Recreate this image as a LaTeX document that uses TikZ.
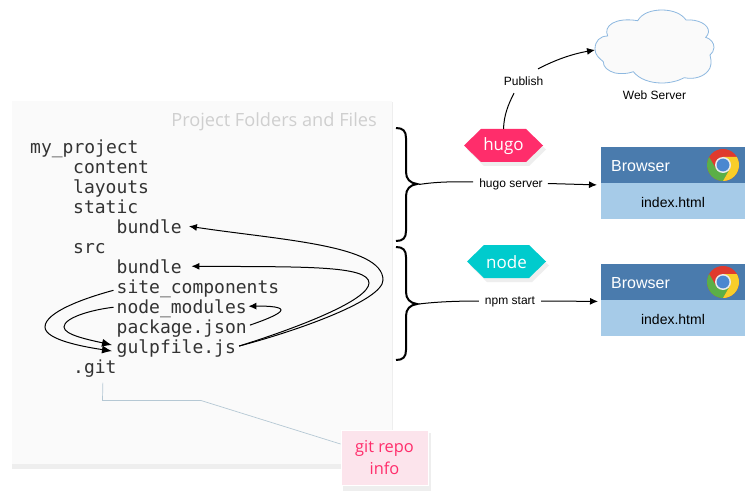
\documentclass[tikz,border=0pt]{standalone}
\usepackage{fontspec}
\setmainfont{Liberation Sans}
\newfontfamily\monof{DejaVu Sans Mono}
\newfontfamily\openf{Open Sans}
\usetikzlibrary{arrows.meta}
\definecolor{panelbg}{HTML}{FAFAFA}
\definecolor{shadowc}{HTML}{EEEEEE}
\definecolor{hotpink}{HTML}{FF2D6B}
\definecolor{teal2}{HTML}{00CBCD}
\definecolor{browserdark}{HTML}{4A7BAD}
\definecolor{browserlight}{HTML}{A6CBE8}
\definecolor{notebg}{HTML}{FCE4EC}
\definecolor{cloudline}{HTML}{8DB8E0}
\definecolor{gitline}{HTML}{B5C8D4}
\definecolor{titlec}{HTML}{CFCFCF}
\definecolor{textc}{HTML}{333333}
\definecolor{chromered}{HTML}{DF3A2E}
\definecolor{chromegreen}{HTML}{5BAF47}
\definecolor{chromeyellow}{HTML}{F9CE2A}
\definecolor{chromeblue}{HTML}{4A87D0}
\tikzset{
  filetext/.style={anchor=base west,inner ysep=0pt,inner xsep=3pt,font=\monof\fontsize{18}{20}\selectfont,text=textc},
  flow/.style={-{Latex[length=8pt,width=7pt]},line width=1pt,black},
  bend2/.style={-{Latex[length=10pt,width=8pt]},line width=1pt,black},
  plainline/.style={line width=1pt,black},
  edgelabel/.style={font=\fontsize{12}{14}\selectfont,inner sep=0pt,text=black},
  bracec/.style={line width=2pt,black},
  hexlabel/.style={font=\openf\fontsize{17}{20}\selectfont,text=white},
  browsertitle/.style={font=\fontsize{16}{18}\selectfont,text=white,anchor=west,inner sep=0pt},
  browserfile/.style={font=\fontsize{14}{16}\selectfont,text=black,inner sep=0pt},
  browserpart/.style={minimum width=144pt,minimum height=36pt,inner sep=0pt,anchor=north west},
}
\newcommand{\chromeball}[2]{%
  \begin{scope}[shift={(#1,#2)}]
    \begin{scope}
      \clip (0,0) circle (16);
      \fill[chromered] (-20,-20) rectangle (20,20);
      \fill[chromegreen] (0,0) -- (-6.93,4) -- (-21.9,-22) -- (-40,-22) -- (-40,40) -- (-8.07,30) -- (6.93,4) -- cycle;
      \fill[chromeyellow] (0,0) -- (0,-8) -- (30,-8) -- (30,30) -- (-8.07,30) -- (6.93,4) -- cycle;
    \end{scope}
    \fill[white!92!black] (0,0) circle (8);
    \fill[chromeblue] (0,0) circle (6.4);
  \end{scope}}
\begin{document}
\begin{tikzpicture}[x=1pt,y=-1pt]
\useasboundingbox (0,0) rectangle (754,497);
\fill[white] (0,0) rectangle (754,497);
% panel
\fill[shadowc] (12,102) rectangle (393,469);
\fill[panelbg] (12,101) rectangle (392,464);
\node[anchor=base east,inner sep=0pt,text=titlec,font=\openf\fontsize{18.2}{20}\selectfont] (paneltitle) at (377,126.5) {Project Folders and Files};
% files
\node[filetext] (f1) at (27,153.5) {my\_project};
\node[filetext] (f2) at (70,173.5) {content};
\node[filetext] (f3) at (70,193.5) {layouts};
\node[filetext] (f4) at (70,213.5) {static};
\node[filetext] (sbundle) at (113.5,233.5) {bundle};
\node[filetext] (f6) at (70,253.5) {src};
\node[filetext] (bundle) at (113.5,273.5) {bundle};
\node[filetext] (site) at (113.5,293.5) {site\_components};
\node[filetext] (nmod) at (113.5,313.5) {node\_modules};
\node[filetext] (pkg) at (113.5,333.5) {package.json};
\node[filetext] (gulp) at (113.5,353.5) {gulpfile.js};
\node[filetext] (git) at (70,373.5) {.git};
% arrows
\draw[flow] ([yshift=2.5pt]gulp.east) .. controls (300,330) and (383,300) .. (383,280) .. controls (383,245) and (280,240) .. ([xshift=4pt,yshift=.5pt]sbundle.east);
\draw[flow] ([yshift=2.5pt]gulp.east) .. controls (300,327) and (369,300) .. (369,283) .. controls (369,265) and (300,267) .. ([xshift=6.5pt,yshift=.5pt]bundle.east);
\draw[bend2] ([yshift=-1.5pt]site.west) .. controls (85,298) and (45,312) .. (45,327) .. controls (45,340) and (85,347) .. ([xshift=-1.5pt,yshift=-2.5pt]gulp.west);
\draw[bend2] ([yshift=1.5pt]nmod.west) .. controls (90,310) and (64,318) .. (64,327) .. controls (64,335) and (90,340) .. ([xshift=-1.5pt,yshift=3.5pt]gulp.west);
\draw[flow] ([yshift=3.5pt]pkg.east) .. controls (262,321) and (281,314) .. (281,310) .. controls (281,306) and (262,306) .. ([xshift=-1.5pt,yshift=2.5pt]nmod.east);
% note
\fill[shadowc] (343,433) rectangle (431,491);
\node[draw=white,line width=1pt,fill=notebg,minimum width=87pt,minimum height=55pt,inner sep=0pt,align=center,text=hotpink,font=\openf\fontsize{16.4}{21.5}\selectfont] (note) at (384.5,457.5) {\raisebox{-1pt}{git repo}\\\raisebox{-1pt}{info}};
\draw[gitline,line width=.7pt] ([xshift=8pt,yshift=-5pt]git.south) -- (102.5,400.5) -- (201,400.5) -- ([yshift=13.5pt]note.west);
% braces
\draw[bracec] (396,128) .. controls (403,128) and (406,131) .. (406,138) -- (406,172) .. controls (406,179) and (410,183) .. (417,184) .. controls (410,185) and (406,189) .. (406,196) -- (406,231) .. controls (406,238) and (403,241) .. (396,241);
\coordinate (brace1) at (419,184.5);
\draw[bracec] (396,247) .. controls (403,247) and (406,250) .. (406,257) -- (406,292) .. controls (406,299) and (410,303) .. (417,304) .. controls (410,305) and (406,309) .. (406,316) -- (406,350) .. controls (406,357) and (403,360) .. (396,360);
\coordinate (brace2) at (419,304);
% browsers
\node[browserpart,fill=browserdark] (b1) at (601,147) {};
\node[browserpart,fill=browserlight] (b1f) at (601,183) {};
\node[browsertitle] (b1t) at (611,166.5) {Browser};
\node[browserfile] (b1i) at (673,202.5) {index.html};
\chromeball{723}{165}
\node[browserpart,fill=browserdark] (b2) at (601,264) {};
\node[browserpart,fill=browserlight] (b2f) at (601,300) {};
\node[browsertitle] (b2t) at (611,283.5) {Browser};
\node[browserfile] (b2i) at (673,319.5) {index.html};
\chromeball{723}{282}
% server connectors
\node[edgelabel] (hs) at (511,184.5) {hugo server};
\node[edgelabel] (ns) at (510,301.5) {npm start};
\draw[plainline] (brace1) .. controls (435,182) and (450,181.5) .. ([xshift=-6pt,yshift=2.5pt]hs.west);
\draw[flow] ([xshift=5pt,yshift=1pt]hs.east) -- ([xshift=-4pt,yshift=-1.5pt]b1.south west);
\draw[plainline] (brace2) .. controls (435,302) and (455,301) .. ([xshift=-6pt,yshift=.5pt]ns.west);
\draw[flow] ([xshift=6pt,yshift=.5pt]ns.east) -- ([xshift=-3pt,yshift=-1pt]b2.south west);
% hexagons
\fill[shadowc] (467,149.5) -- (484,133) -- (529,133) -- (546,149.5) -- (529,166) -- (484,166) -- cycle;
\fill[hotpink] (464,145.5) -- (481,129) -- (526,129) -- (543,145.5) -- (526,162) -- (481,162) -- cycle;
\node[hexlabel] (hugo) at (503.5,146) {hugo};
\coordinate (hugotop) at (503.5,129);
\fill[shadowc] (470,265.5) -- (487,249) -- (532,249) -- (549,265.5) -- (532,282) -- (487,282) -- cycle;
\fill[teal2] (467,261.5) -- (484,245) -- (529,245) -- (546,261.5) -- (529,278) -- (484,278) -- cycle;
\node[hexlabel] (node) at (506.5,262) {node};
% cloud
\draw[cloudline,fill=panelbg,line width=.8pt]
  (595,49) .. controls (595,41) and (600,36) .. (607.7,36)
  .. controls (603,26) and (615,17) .. (637.7,20.7)
  .. controls (642,13) and (652,10) .. (662,10)
  .. controls (673,10) and (682,14) .. (686,20)
  .. controls (697,19) and (709,24) .. (708.5,32)
  .. controls (708.5,34) and (707,36) .. (705.7,37.3)
  .. controls (711,39) and (714,43) .. (714,47.5)
  .. controls (714,51) and (712,53) .. (710,55)
  .. controls (712,62) and (711,68) .. (708,71)
  .. controls (704,76) and (695,80) .. (684.3,77.7)
  .. controls (678,81) and (670,83) .. (661.7,83)
  .. controls (650,83) and (639,79) .. (633.3,71.7)
  .. controls (627,74) and (621,74) .. (615,73)
  .. controls (608,71) and (603,67) .. (603.3,61.7)
  .. controls (599,58) and (595,55) .. (595,49) -- cycle;
\coordinate (cloudw) at (595,50);
\node[edgelabel] (ws) at (654.5,95.5) {Web Server};
% publish
\node[edgelabel] (pub) at (523.5,81.5) {Publish};
\draw[plainline] (hugotop) .. controls (504,115) and (508,105) .. ([xshift=-9.5pt,yshift=-7pt]pub.south);
\draw[flow] ([xshift=14.5pt,yshift=8pt]pub.north) .. controls (555,60) and (572,54) .. (cloudw);
\end{tikzpicture}
\end{document}
